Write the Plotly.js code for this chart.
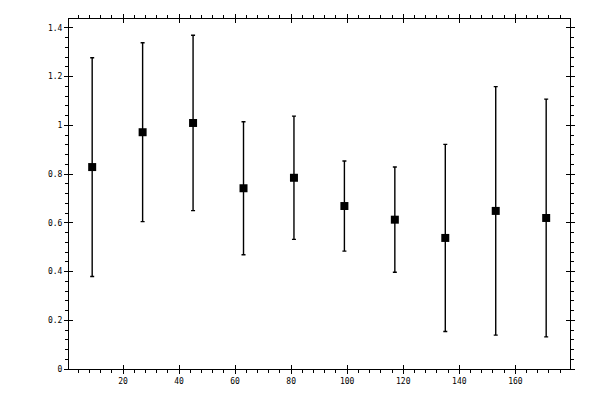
<!DOCTYPE html>
<html>
<head>
<meta charset="utf-8">
<script src="https://cdn.plot.ly/plotly-3.0.1.min.js"></script>
<style>html,body{margin:0;padding:0;background:#fff;}#chart{width:600px;height:400px;}</style>
</head>
<body>
<div id="chart"></div>
<script>
const xValues = [9, 27, 45, 63, 81, 99, 117, 135, 153, 171];
const yValues = [0.829, 0.972, 1.010, 0.742, 0.785, 0.669, 0.613, 0.538, 0.649, 0.620];
const yErrors = [0.449, 0.367, 0.360, 0.273, 0.253, 0.185, 0.216, 0.384, 0.510, 0.488];

const xRange = [0.73, 179.5];
const yRange = [0, 1.4368];
const tickFont = {family: 'DejaVu Sans Mono', size: 8, color: '#000'};

const trace = {
  x: xValues,
  y: yValues,
  type: 'scatter',
  mode: 'markers',
  marker: {symbol: 'square', size: 8, color: '#000'},
  error_y: {type: 'data', array: yErrors, visible: true, color: '#000', thickness: 1.4, width: 2},
  showlegend: false,
  hoverinfo: 'x+y'
};

// same data on the overlay axes (invisible), so the inner-tick axes get drawn
const overlayTrace = {
  x: xValues,
  y: yValues,
  xaxis: 'x2', yaxis: 'y2',
  type: 'scatter',
  mode: 'markers',
  marker: {opacity: 0},
  showlegend: false,
  hoverinfo: 'skip'
};

const baseAxis = {
  showgrid: false, zeroline: false,
  showline: true, linecolor: '#000', linewidth: 1,
  ticks: 'outside', ticklen: 4, tickwidth: 1, tickcolor: '#000',
  mirror: 'ticks', tickfont: tickFont
};

const layout = {
  width: 600, height: 400,
  margin: {l: 69, r: 30, t: 19, b: 31},
  paper_bgcolor: '#fff', plot_bgcolor: '#fff',
  xaxis: Object.assign({}, baseAxis, {
    range: xRange, tick0: 0, dtick: 20,
    minor: {ticks: 'outside', ticklen: 3, dtick: 4, tick0: 0, tickcolor: '#000', tickwidth: 1}
  }),
  yaxis: Object.assign({}, baseAxis, {
    range: yRange, tick0: 0, dtick: 0.2,
    minor: {ticks: 'outside', ticklen: 3, dtick: 0.04, tick0: 0, tickcolor: '#000', tickwidth: 1}
  }),
  xaxis2: {
    overlaying: 'x', anchor: 'y2', side: 'bottom', range: xRange, tick0: 0, dtick: 20,
    ticks: 'inside', ticklen: 4, tickwidth: 1, tickcolor: '#000', mirror: 'ticks',
    showticklabels: false, showgrid: false, zeroline: false, showline: false
  },
  yaxis2: {
    overlaying: 'y', anchor: 'x2', side: 'left', range: yRange, tick0: 0, dtick: 0.2,
    ticks: 'inside', ticklen: 4, tickwidth: 1, tickcolor: '#000', mirror: 'ticks',
    showticklabels: false, showgrid: false, zeroline: false, showline: false
  }
};

Plotly.newPlot('chart', [trace, overlayTrace], layout, {displayModeBar: false, staticPlot: true});
</script>
</body>
</html>
